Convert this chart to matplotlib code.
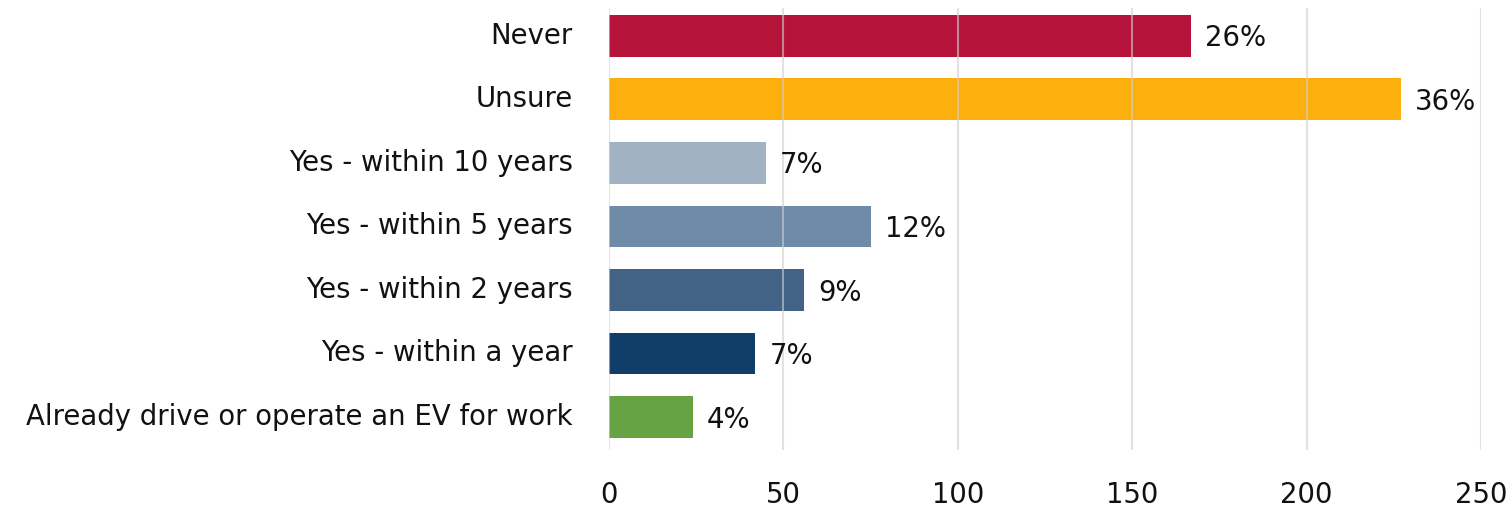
import matplotlib
matplotlib.use("Agg")
import matplotlib.pyplot as plt
from matplotlib.transforms import ScaledTranslation

categories = ["Never", "Unsure", "Yes - within 10 years", "Yes - within 5 years",
              "Yes - within 2 years", "Yes - within a year",
              "Already drive or operate an EV for work"]
values = [167, 227, 45, 75, 56, 42, 24]
pct_labels = ["26%", "36%", "7%", "12%", "9%", "7%", "4%"]
colors = ["#B5133A", "#FDB00D", "#A0B2C4", "#6F8BA7", "#426386", "#113D69", "#67A344"]
xticks = [0, 50, 100, 150, 200, 250]

plt.rcParams['font.family'] = ['DejaVu Sans']
FS = 19.8

fig = plt.figure(figsize=(15.09, 5.07), dpi=100)
ax = fig.add_axes([609/1509, 1-450/507, (1481-609)/1509, (450-8)/507])

y = list(range(len(categories)))
ax.barh(y, values, height=0.66, color=colors, zorder=2)
for yi, v, lab in zip(y, values, pct_labels):
    ax.text(v + 4, yi + 0.04, lab, va='center', ha='left', fontsize=FS, color='#111111')

ax.set_xlim(0, 250)
ax.set_ylim(6.52, -0.44)
ax.set_xticks(xticks)
ax.set_yticks(y)
ax.set_yticklabels(categories, fontsize=FS, color='#111111')
ax.tick_params(axis='x', length=0, pad=22, labelsize=FS, labelcolor='#111111')
ax.tick_params(axis='y', length=0, pad=26)
shift = ScaledTranslation(0, 3/100, fig.dpi_scale_trans)
for t in ax.get_yticklabels():
    t.set_transform(t.get_transform() + shift)
ax.xaxis.grid(True, color='#D0D0D0', linewidth=1.5, alpha=0.6, zorder=3)
ax.set_axisbelow(False)
for s in ax.spines.values():
    s.set_visible(False)

fig.savefig("out.png", dpi=100)
